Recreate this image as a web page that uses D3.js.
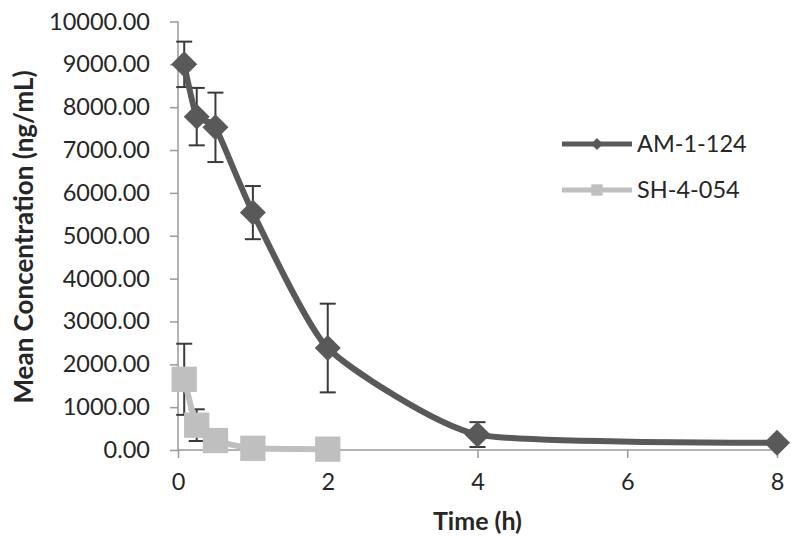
<!DOCTYPE html>
<html><head><meta charset="utf-8">
<script src="https://cdn.jsdelivr.net/npm/d3@7"></script>
<style>
html,body{margin:0;padding:0;background:#fff;}
svg{display:block;}
text{font-family:Lato,"Liberation Sans",Arial,sans-serif;fill:#262626;}
</style></head>
<body>
<svg id="chart" width="800" height="547"></svg>
<script>
// ---- data ----
const timesAM = [0.083, 0.25, 0.5, 1, 2, 4, 8];
const meanAM  = [9000, 7780, 7530, 5540, 2380, 360, 170];
const errAM   = [530, 670, 810, 620, 1035, 290, 0];
const timesSH = [0.083, 0.25, 0.5, 1, 2];
const meanSH  = [1650, 580, 220, 40, 20];
const errSH   = [830, 370, 90, 20, 10];
const seriesNames = ["AM-1-124", "SH-4-054"];
const xTicks = [0, 2, 4, 6, 8];
const yTicks = [0, 1000, 2000, 3000, 4000, 5000, 6000, 7000, 8000, 9000, 10000];
const xTitle = "Time (h)";
const yTitle = "Mean Concentration (ng/mL)";

const FONT = 'Lato,"Liberation Sans",Arial,sans-serif';
const svg = d3.select("#chart");
const x = d3.scaleLinear().domain([0, 8]).range([178, 777]);
const y = d3.scaleLinear().domain([0, 10000]).range([450, 21.5]);
const axisColor = "#9a9a9a";
const darkC = "#595959", lightC = "#bfbfbf", errC = "#3a3a3a";

// axes
const yAxis = svg.append("g").attr("transform", `translate(${x(0)},0)`)
  .call(d3.axisLeft(y).tickValues(yTicks).tickSize(8).tickPadding(20).tickFormat(d3.format(".2f")));
const xAxis = svg.append("g").attr("transform", `translate(0,${y(0)})`)
  .call(d3.axisBottom(x).tickValues(xTicks).tickSize(8).tickPadding(15).tickFormat(d3.format("d")));
[xAxis, yAxis].forEach(g => {
  g.select(".domain").attr("stroke", axisColor).attr("stroke-width", 1.5);
  g.selectAll(".tick line").attr("stroke", axisColor).attr("stroke-width", 1.5);
  g.selectAll("text").style("font-family", FONT)
    .style("font-size", "23.5px").attr("fill", "#262626");
});
yAxis.select(".domain").attr("d", `M0,${y(10000)}V${y(0)}`);
xAxis.select(".domain").attr("d", `M${x(0)},0H${x(8)}`);

// titles
svg.append("text").attr("x", (x(0) + x(8)) / 2).attr("y", 530)
  .attr("text-anchor", "middle").style("font-size", "25px").style("font-weight", "bold").text(xTitle);
svg.append("text").attr("transform", `translate(33,${237}) rotate(-90)`)
  .attr("text-anchor", "middle").style("font-size", "26px").style("font-weight", "bold").text(yTitle);

const amData = timesAM.map((t, i) => ({t, v: meanAM[i], e: errAM[i]}));
const shData = timesSH.map((t, i) => ({t, v: meanSH[i], e: errSH[i]}));

function errorBars(data) {
  const g = svg.append("g").attr("stroke", errC).attr("stroke-width", 2).attr("fill", "none");
  data.filter(d => d.e > 0).forEach(d => {
    const cx = x(d.t), y1 = y(d.v + d.e), y2 = y(Math.max(0, d.v - d.e));
    g.append("line").attr("x1", cx).attr("x2", cx).attr("y1", y1).attr("y2", y2);
    g.append("line").attr("x1", cx - 8).attr("x2", cx + 8).attr("y1", y1).attr("y2", y1);
    g.append("line").attr("x1", cx - 8).attr("x2", cx + 8).attr("y1", y2).attr("y2", y2);
  });
}
errorBars(amData);
errorBars(shData);

const line = d3.line().x(d => x(d.t)).y(d => y(d.v)).curve(d3.curveCardinal.tension(0.45));
svg.append("path").datum(amData).attr("d", line).attr("fill", "none").attr("stroke", darkC).attr("stroke-width", 6);
svg.append("path").datum(shData).attr("d", line).attr("fill", "none").attr("stroke", lightC).attr("stroke-width", 6);

const diamond = d3.symbol().type(d3.symbolDiamond2).size(430);
svg.append("g").selectAll("path").data(amData).join("path")
  .attr("transform", d => `translate(${x(d.t)},${y(d.v)})`).attr("d", diamond).attr("fill", darkC);
const square = d3.symbol().type(d3.symbolSquare).size(640);
svg.append("g").selectAll("path").data(shData).join("path")
  .attr("transform", d => `translate(${x(d.t)},${y(d.v)})`).attr("d", square).attr("fill", lightC);

// legend
const leg = svg.append("g");
const legY = [144, 190];
const legCol = [darkC, lightC];
seriesNames.forEach((name, i) => {
  leg.append("line").attr("x1", 562).attr("x2", 632).attr("y1", legY[i]).attr("y2", legY[i])
    .attr("stroke", legCol[i]).attr("stroke-width", 5);
  leg.append("path").attr("transform", `translate(597,${legY[i]})`)
    .attr("d", i === 0 ? d3.symbol().type(d3.symbolDiamond2).size(90)() : d3.symbol().type(d3.symbolSquare).size(130)())
    .attr("fill", legCol[i]);
  leg.append("text").attr("x", 637).attr("y", legY[i]).attr("dy", "0.35em")
    .style("font-size", "23.5px").text(name);
});
</script>
</body></html>
